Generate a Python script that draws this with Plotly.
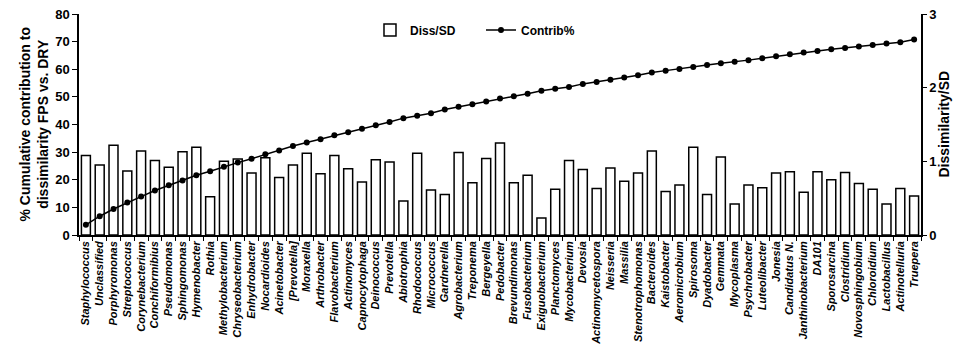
import plotly.graph_objects as go

genera = ["Staphylococcus", "Unclassified", "Porphyromonas", "Streptococcus", "Corynebacterium",
          "Conchiformibius", "Pseudomonas", "Sphingomonas", "Hymenobacter", "Rothia",
          "Methylobacterium", "Chryseobacterium", "Enhydrobacter", "Nocardioides", "Acinetobacter",
          "[Prevotella]", "Moraxella", "Arthrobacter", "Flavobacterium", "Actinomyces",
          "Capnocytophaga", "Deinococcus", "Prevotella", "Abiotrophia", "Rhodococcus",
          "Micrococcus", "Gardnerella", "Agrobacterium", "Treponema", "Bergeyella",
          "Pedobacter", "Brevundimonas", "Fusobacterium", "Exiguobacterium", "Planctomyces",
          "Mycobacterium", "Devosia", "Actinomycetospora", "Neisseria", "Massilia",
          "Stenotrophomonas", "Bacteroides", "Kaistobacter", "Aeromicrobium", "Spirosoma",
          "Dyadobacter", "Gemmata", "Mycoplasma", "Psychrobacter", "Luteolibacter",
          "Jonesia", "Candidatus N.", "Janthinobacterium", "DA101", "Sporosarcina",
          "Clostridium", "Novosphingobium", "Chloroidium", "Lactobacillus", "Actinotelluria",
          "Truepera"]

diss_sd = [1.08, 0.95, 1.22, 0.87, 1.14, 1.01, 0.92, 1.13, 1.19, 0.52,
           1.00, 1.03, 0.84, 1.05, 0.78, 0.95, 1.11, 0.83, 1.08, 0.90,
           0.72, 1.02, 0.99, 0.46, 1.11, 0.61, 0.55, 1.12, 0.71, 1.04,
           1.25, 0.71, 0.81, 0.23, 0.62, 1.01, 0.89, 0.63, 0.91, 0.73,
           0.84, 1.14, 0.59, 0.68, 1.19, 0.55, 1.06, 0.42, 0.68, 0.64,
           0.84, 0.86, 0.58, 0.86, 0.75, 0.85, 0.70, 0.62, 0.42, 0.63,
           0.53]

contrib = [3.7, 6.8, 9.4, 11.8, 13.9, 16.1, 18.0, 19.7, 21.6, 23.1,
           24.7, 26.2, 27.6, 29.2, 30.6, 32.2, 33.5, 34.7, 36.1, 37.2,
           38.5, 39.7, 40.9, 42.3, 43.2, 44.1, 45.4, 46.4, 47.3, 48.3,
           49.4, 50.2, 51.1, 52.2, 52.9, 53.6, 54.7, 55.4, 56.2, 57.0,
           57.8, 58.8, 59.5, 60.1, 60.8, 61.5, 62.2, 62.7, 63.3, 64.0,
           64.7, 65.4, 66.1, 66.6, 67.2, 67.7, 68.2, 68.8, 69.3, 69.8,
           70.8]

left_ticks = [0, 10, 20, 30, 40, 50, 60, 70, 80]
right_ticks = [0, 1, 2, 3]

FONT = "Arial, Liberation Sans, sans-serif"

fig = go.Figure()
fig.add_trace(go.Bar(
    x=genera, y=diss_sd, name="Diss/SD", yaxis="y",
    marker=dict(color="white", line=dict(color="black", width=1.5)),
))
fig.add_trace(go.Scatter(
    x=genera, y=contrib, name="Contrib%", yaxis="y2", mode="lines+markers",
    line=dict(color="black", width=1.5),
    marker=dict(color="black", size=6),
))

fig.update_layout(
    width=956, height=354,
    margin=dict(l=79, r=35, t=14, b=119),
    paper_bgcolor="white", plot_bgcolor="white",
    font=dict(family=FONT, color="black"),
    bargap=0.35,
    showlegend=True,
    legend=dict(orientation="h", x=0.3456, y=0.928, xanchor="left", yanchor="middle",
                font=dict(size=12, weight="bold"), bgcolor="rgba(0,0,0,0)",
                itemwidth=30, entrywidth=66, entrywidthmode="pixels",
                traceorder="normal"),
    xaxis=dict(
        type="category", tickangle=-90, showline=True, linecolor="black", linewidth=1.5,
        tickmode="array", tickvals=genera, ticktext=genera,
        ticks="outside", tickson="boundaries", ticklen=4, tickcolor="black",
        tickfont=dict(size=11, style="italic", weight="bold", family=FONT),
        showgrid=False, range=[-0.5, len(genera) - 0.5], automargin=False,
    ),
    yaxis=dict(
        side="right", range=[0, 3], tickvals=right_ticks, showline=True, linecolor="black",
        linewidth=1.5, ticks="outside", ticklen=4, tickcolor="black", showgrid=False,
        zeroline=False, tickfont=dict(size=13, weight="bold"), automargin=False,
    ),
    yaxis2=dict(
        side="left", overlaying="y", range=[0, 80], tickvals=left_ticks, showline=True,
        linecolor="black", linewidth=1.5, ticks="outside", ticklen=5, tickcolor="black",
        showgrid=False, zeroline=False, tickfont=dict(size=13, weight="bold"),
        automargin=False,
    ),
    annotations=[
        dict(text="Dissimilarity/SD", textangle=-90, xref="paper", yref="paper",
             x=1.0, xanchor="center", xshift=22, y=0.5, yanchor="middle",
             showarrow=False, font=dict(size=14, weight="bold")),
        dict(text="% Cumulative contribution to<br>dissimilarity FPS vs. DRY", textangle=-90,
             xref="paper", yref="paper", x=0.0, xanchor="center", xshift=-46, y=0.5,
             yanchor="middle", showarrow=False, font=dict(size=14, weight="bold")),
    ],
)

fig.write_html("out.html", config={"displayModeBar": False},
               post_script="document.body.style.margin='0';")
